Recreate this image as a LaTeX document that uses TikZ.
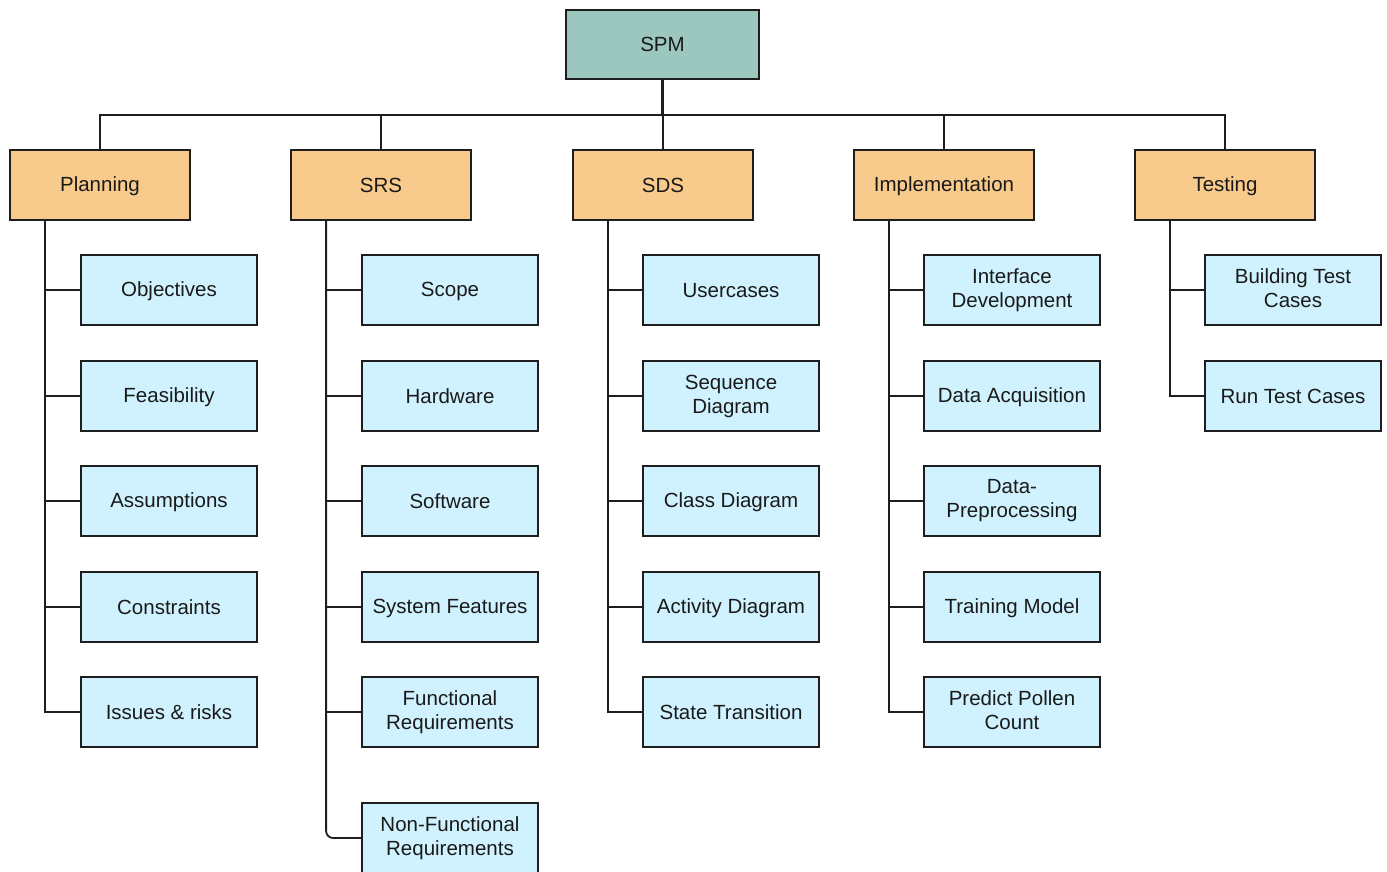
\documentclass[tikz,border=0pt]{standalone}
\usepackage{fontspec}
\setmainfont{Liberation Sans}
\definecolor{rootfill}{HTML}{9CC7BF}
\definecolor{phasefill}{HTML}{F8CB8C}
\definecolor{taskfill}{HTML}{D0F2FE}
\definecolor{edgecol}{HTML}{1E1E1E}
\definecolor{txtcol}{HTML}{1A1A1A}
% vertical struts that centre capital letters in a box
\newcommand{\topstrut}{\rule{0pt}{18pt}}
\newcommand{\botstrut}{\rule[-3.5pt]{0pt}{3.5pt}}
\begin{document}
\begin{tikzpicture}[x=1pt,y=-1pt,
  box/.style={draw=edgecol,line width=1.8pt,inner sep=0pt,align=center,
    text=txtcol,font=\fontsize{20.5}{24}\selectfont,
    execute at begin node={\topstrut},execute at end node={\botstrut}},
  rootbox/.style={box,fill=rootfill,minimum width=193pt,minimum height=69pt},
  phasebox/.style={box,fill=phasefill,minimum width=180pt,minimum height=70pt},
  taskbox/.style={box,fill=taskfill,minimum width=176pt,minimum height=70pt},
  link/.style={draw=edgecol,line width=1.8pt}]
\useasboundingbox (0,0) rectangle (1387,872);

% root
\node[rootbox] (spm) at (662.5,44.5) {SPM};

% phases
\node[phasebox] (pl)  at (100,185)  {Planning};
\node[phasebox] (srs) at (381,185)  {SRS};
\node[phasebox] (sds) at (663,185)  {SDS};
\node[phasebox] (imp) at (944,185)  {Implementation};
\node[phasebox] (tst) at (1225,185) {Testing};

% bus from root to phases
\coordinate (bus) at (662.5,115);
\draw[link,line width=2.6pt] (spm.south) -- (bus);
\foreach \p in {pl,srs,sds,imp,tst}{
  \draw[link] (bus) -| (\p.north);
}

% spine start points below each phase
\foreach \p in {pl,srs,sds,imp,tst}{
  \coordinate (\p-sp) at ([xshift=36pt]\p.south west);
}

% Planning tasks
\node[taskbox] (pl1) at (169,290) {Objectives};
\node[taskbox] (pl2) at (169,396) {Feasibility};
\node[taskbox] (pl3) at (169,501) {Assumptions};
\node[taskbox] (pl4) at (169,607) {Constraints};
\node[taskbox] (pl5) at (169,712) {Issues \& risks};

% SRS tasks
\node[taskbox] (srs1) at (450,290) {Scope};
\node[taskbox] (srs2) at (450,396) {Hardware};
\node[taskbox] (srs3) at (450,501) {Software};
\node[taskbox] (srs4) at (450,607) {System Features};
\node[taskbox] (srs5) at (450,712) {Functional\\Requirements};
\node[taskbox] (srs6) at (450,838) {Non-Functional\\Requirements};

% SDS tasks
\node[taskbox] (sds1) at (731,290) {Usercases};
\node[taskbox] (sds2) at (731,396) {Sequence\\Diagram};
\node[taskbox] (sds3) at (731,501) {Class Diagram};
\node[taskbox] (sds4) at (731,607) {Activity Diagram};
\node[taskbox] (sds5) at (731,712) {State Transition};

% Implementation tasks
\node[taskbox] (imp1) at (1012,290) {Interface\\Development};
\node[taskbox] (imp2) at (1012,396) {Data Acquisition};
\node[taskbox] (imp3) at (1012,501) {Data-\\Preprocessing};
\node[taskbox] (imp4) at (1012,607) {Training Model};
\node[taskbox] (imp5) at (1012,712) {Predict Pollen\\Count};

% Testing tasks
\node[taskbox] (tst1) at (1293,290) {Building Test\\Cases};
\node[taskbox] (tst2) at (1293,396) {Run Test Cases};

% connectors from spines to tasks
\foreach \c in {pl1,pl2,pl3,pl4,pl5}{\draw[link] (pl-sp) |- (\c.west);}
\foreach \c in {srs1,srs2,srs3,srs4,srs5}{\draw[link] (srs-sp) |- (\c.west);}
\draw[link,rounded corners=7pt] (srs-sp) |- (srs6.west);
\foreach \c in {sds1,sds2,sds3,sds4,sds5}{\draw[link] (sds-sp) |- (\c.west);}
\foreach \c in {imp1,imp2,imp3,imp4,imp5}{\draw[link] (imp-sp) |- (\c.west);}
\foreach \c in {tst1,tst2}{\draw[link] (tst-sp) |- (\c.west);}
\end{tikzpicture}
\end{document}
